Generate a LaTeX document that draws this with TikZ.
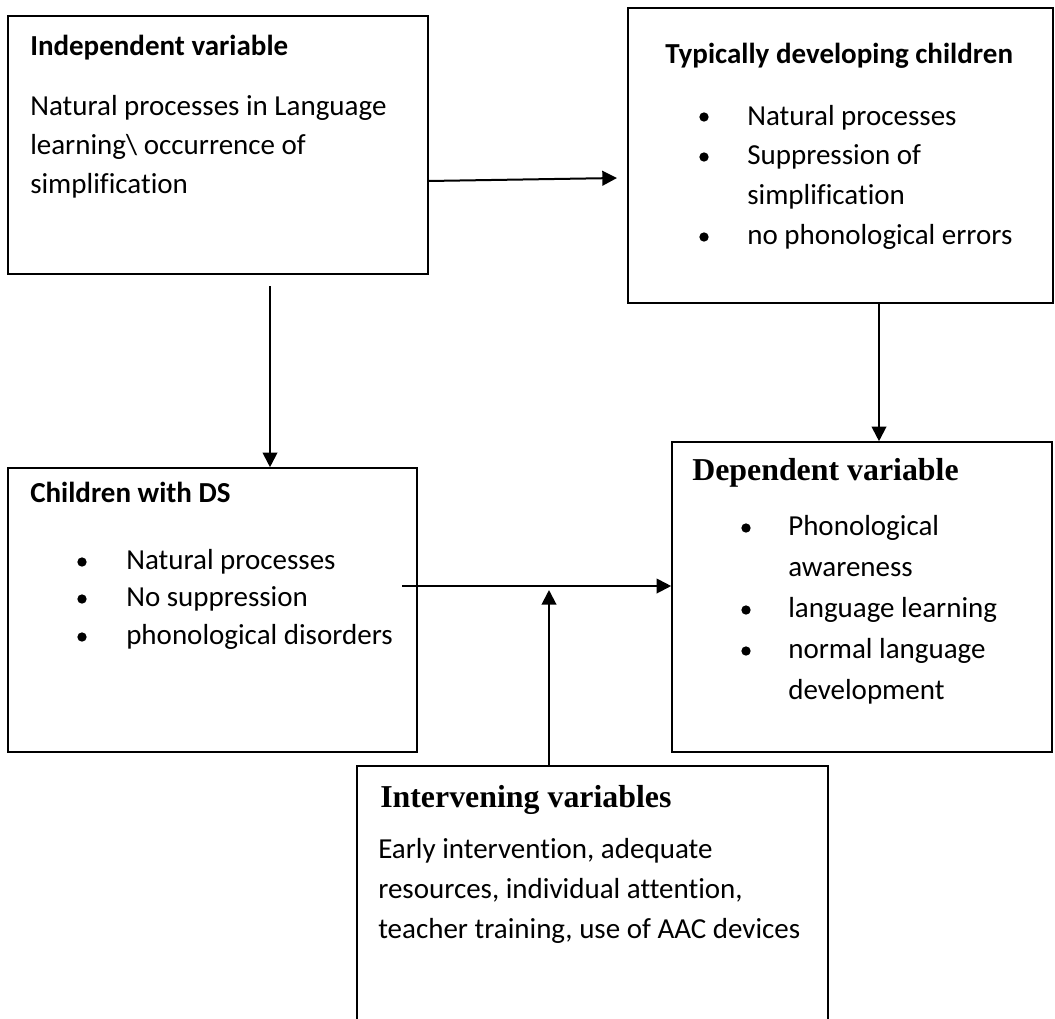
\documentclass[tikz,border=0pt]{standalone}
\usepackage{fontspec}
\setmainfont{Carlito}[Ligatures=NoCommon]
\newfontfamily\tnr{Liberation Serif}
\usetikzlibrary{arrows.meta}
\begin{document}
\begin{tikzpicture}[x=0.75pt,y=-0.75pt,
  box/.style={draw, line width=1.2pt, inner sep=0pt, rectangle},
  txt/.style={anchor=base west, inner sep=0pt, font=\fontsize{21.75}{26}\selectfont},
  hd/.style={anchor=base west, inner sep=0pt, font=\fontsize{21.75}{26}\selectfont\bfseries},
  thd/.style={anchor=base west, inner sep=0pt, font=\tnr\fontsize{23.9}{28}\selectfont\bfseries},
  dot/.style={circle, fill, inner sep=0pt, minimum size=7pt},
  arr/.style={line width=1.5pt, -{Triangle[length=11pt,width=11pt]}}]
\clip (0,0) rectangle (1055,1018);
% boxes
\node[box, minimum width=315pt, minimum height=193.5pt] (b1) at (218,145) {};
\node[box, minimum width=318.75pt, minimum height=221.25pt] (b2) at (840.5,155.5) {};
\node[box, minimum width=306.75pt, minimum height=213pt] (b3) at (212.5,610) {};
\node[box, minimum width=285pt, minimum height=232.5pt] (b4) at (862,597) {};
\node[box, minimum width=353.25pt, minimum height=205.5pt] (b5) at (592.5,903) {};
% box 1 text
\node[hd] (t1h) at (30,55) {Independent variable};
\node[txt] (t1a) at (30,115) {Natural processes in Language};
\node[txt] (t1b) at (30,154) {learning\textbackslash{} occurrence of};
\node[txt] (t1c) at (30,193) {simplification};
% box 2 text
\node[hd] (t2h) at (665,63) {Typically developing children};
\node[dot] (d2a) at (704,117) {};
\node[txt] (t2a) at (747,125) {Natural processes};
\node[dot] (d2b) at (704,157) {};
\node[txt] (t2b) at (747,164) {Suppression of};
\node[txt] (t2c) at (747,204) {simplification};
\node[dot] (d2c) at (704,237) {};
\node[txt] (t2d) at (747,244) {no phonological errors};
% box 3 text
\node[hd] (t3h) at (30,502) {Children with DS};
\node[dot] (d3a) at (82,562) {};
\node[txt] (t3a) at (126,569) {Natural processes};
\node[dot] (d3b) at (82,599) {};
\node[txt] (t3b) at (126,606) {No suppression};
\node[dot] (d3c) at (82,637) {};
\node[txt] (t3c) at (126,644) {phonological disorders};
% box 4 text
\node[thd] (t4h) at (692,480) {Dependent variable};
\node[dot] (d4a) at (746,528) {};
\node[txt] (t4a) at (788,535) {Phonological};
\node[txt] (t4b) at (788,576) {awareness};
\node[dot] (d4b) at (746,610) {};
\node[txt] (t4c) at (788,617) {language learning};
\node[dot] (d4c) at (746,651) {};
\node[txt] (t4d) at (788,658) {normal language};
\node[txt] (t4e) at (788,699) {development};
% box 5 text
\node[thd] (t5h) at (380,807) {Intervening variables};
\node[txt] (t5a) at (378,858) {Early intervention, adequate};
\node[txt] (t5b) at (378,898) {resources, individual attention,};
\node[txt] (t5c) at (378,938) {teacher training, use of AAC devices};
% connectors
\coordinate (a1s) at (428,181);
\coordinate (a1e) at (617,178);
\draw[arr] (a1s) -- (a1e);
\coordinate (a2s) at (270,286);
\draw[arr] (a2s) -- (a2s |- b3.north);
\coordinate (a3x) at (879,0);
\draw[arr] (b2.south -| a3x) -- (b4.north -| a3x);
\coordinate (a4s) at (402,586);
\draw[arr] (a4s) -- (a4s -| b4.west);
\coordinate (a5e) at (549,590);
\draw[arr] (a5e |- b5.north) -- (a5e);
\end{tikzpicture}
\end{document}
